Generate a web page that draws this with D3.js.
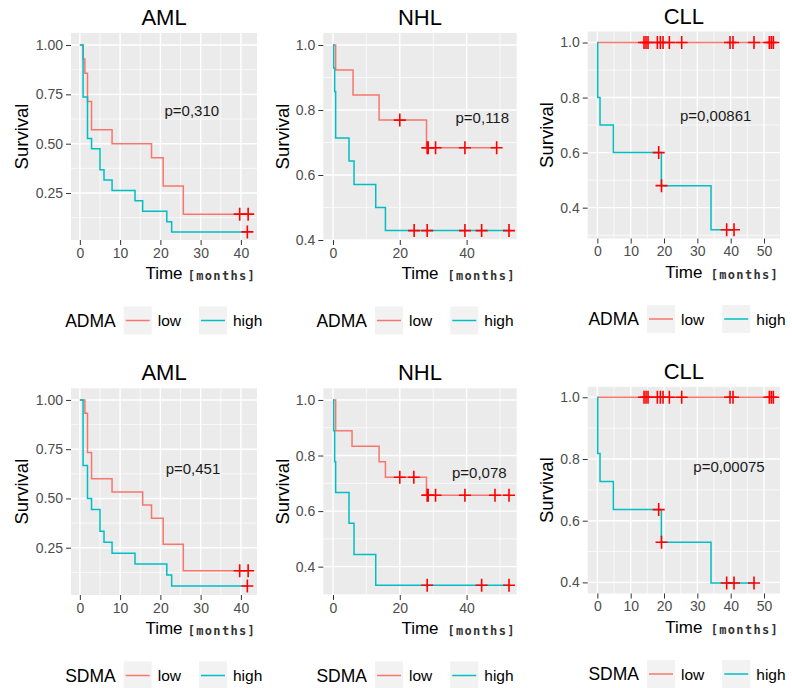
<!doctype html>
<html>
<head>
<meta charset="utf-8">
<title>ADMA / SDMA survival</title>
<script src="https://cdnjs.cloudflare.com/ajax/libs/d3/7.8.5/d3.min.js"></script>
<style>
  body { margin: 0; background: #fff; }
  svg { display: block; font-family: "Liberation Sans", Arial, sans-serif; }
</style>
</head>
<body>
<svg width="792" height="688"></svg>
<script>
// step curves (time in months, survival) and censoring times
var amlAdmaLowT  = [0, 0.8, 1.25, 1.9, 2.9, 8.0, 17.8, 20.7, 25.7, 41.8];
var amlAdmaLowS  = [1, 0.929, 0.857, 0.714, 0.571, 0.5, 0.429, 0.286, 0.143, 0.143];
var amlAdmaLowC  = [39.7, 41.8];
var amlAdmaHighT = [0, 0.8, 1.9, 2.9, 5.0, 6.0, 8.0, 13.7, 15.6, 21.6, 22.8, 41.6];
var amlAdmaHighS = [1, 0.737, 0.526, 0.474, 0.368, 0.316, 0.263, 0.211, 0.158, 0.105, 0.053, 0.053];
var amlAdmaHighC = [41.6];

var nhlAdmaLowT  = [0, 0.8, 6.0, 13.8, 28.0, 49.0];
var nhlAdmaLowS  = [1, 0.923, 0.846, 0.769, 0.684, 0.684];
var nhlAdmaLowC  = [20.0, 28.2, 28.5, 30.7, 39.5, 49.0];
var nhlAdmaHighT = [0, 0.2, 0.5, 0.8, 4.8, 6.3, 12.8, 15.7, 52.7];
var nhlAdmaHighS = [1, 0.929, 0.857, 0.714, 0.643, 0.571, 0.5, 0.429, 0.429];
var nhlAdmaHighC = [24.3, 28.2, 39.5, 44.5, 52.7];

var cllAdmaLowT  = [0, 52.8];
var cllAdmaLowS  = [1, 1];
var cllAdmaLowC  = [14.0, 14.6, 15.2, 18.0, 18.9, 19.7, 21.6, 25.3, 39.8, 40.7, 47.0, 51.6, 52.2, 52.8];
var cllAdmaHighT = [0, 0.1, 0.8, 4.8, 19.2, 34.1, 41.0];
var cllAdmaHighS = [1, 0.8, 0.7, 0.6, 0.48, 0.32, 0.32];
var cllAdmaHighC = [18.4, 19.25, 38.8, 41.0];

var amlSdmaLowT  = [0, 1.25, 1.9, 2.9, 8.0, 15.6, 17.8, 20.7, 25.7, 41.8];
var amlSdmaLowS  = [1, 0.933, 0.733, 0.6, 0.533, 0.467, 0.4, 0.267, 0.133, 0.133];
var amlSdmaLowC  = [39.7, 41.8];
var amlSdmaHighT = [0, 0.8, 1.9, 2.9, 5.0, 6.0, 8.0, 13.7, 21.6, 22.8, 41.6];
var amlSdmaHighS = [1, 0.667, 0.5, 0.444, 0.333, 0.278, 0.222, 0.167, 0.111, 0.056, 0.056];
var amlSdmaHighC = [41.6];

var nhlSdmaLowT  = [0, 0.8, 5.7, 13.8, 15.7, 28.0, 52.7];
var nhlSdmaLowS  = [1, 0.889, 0.833, 0.778, 0.722, 0.657, 0.657];
var nhlSdmaLowC  = [20.0, 24.2, 28.2, 28.5, 30.7, 39.5, 48.5, 52.7];
var nhlSdmaHighT = [0, 0.2, 0.5, 0.8, 4.8, 6.3, 12.8, 52.7];
var nhlSdmaHighS = [1, 0.889, 0.778, 0.667, 0.556, 0.444, 0.333, 0.333];
var nhlSdmaHighC = [28.2, 44.5, 52.7];

var cllSdmaLowT  = [0, 52.8];
var cllSdmaLowS  = [1, 1];
var cllSdmaLowC  = [14.0, 14.6, 15.2, 18.0, 18.9, 19.7, 21.6, 25.3, 39.8, 40.7, 51.6, 52.2, 52.8];
var cllSdmaHighT = [0, 0.1, 0.8, 4.8, 19.2, 34.1, 47.0];
var cllSdmaHighS = [1, 0.818, 0.727, 0.636, 0.530, 0.398, 0.398];
var cllSdmaHighC = [18.4, 19.25, 38.8, 41.0, 47.0];

// tick labels
var amlYTicks = [0.25, 0.5, 0.75, 1.0];
var nhlYTicks = [0.4, 0.6, 0.8, 1.0];
var cllYTicks = [0.4, 0.6, 0.8, 1.0];
var amlXTicks = [0, 10, 20, 30, 40];
var nhlXTicks = [0, 20, 40];
var cllXTicks = [0, 10, 20, 30, 40, 50];

var groups = ["low", "high"];
var pValues = ["p=0,310", "p=0,118", "p=0,00861", "p=0,451", "p=0,078", "p=0,00075"];

var colLow = "#F8766D", colHigh = "#00BFC4", colCensor = "#FF0000";

// plot area of each column / row
var colX = [[71, 257], [323.3, 516.7], [587.7, 780]];
var rowY = [[33, 240], [388.3, 595]];
var legendCx = [163.7, 415, 687];

var panels = [
  {row: 0, col: 0, title: "AML", marker: "ADMA", p: pValues[0], pAt: [27.8, 0.67],
   xDom: [-2.2, 44.0], yDom: [0.012, 1.061], xTicks: amlXTicks, yTicks: amlYTicks, yFmt: ".2f",
   low: [amlAdmaLowT, amlAdmaLowS, amlAdmaLowC], high: [amlAdmaHighT, amlAdmaHighS, amlAdmaHighC]},
  {row: 0, col: 1, title: "NHL", marker: "ADMA", p: pValues[1], pAt: [44.7, 0.778],
   xDom: [-2.9, 55.0], yDom: [0.4, 1.037], xTicks: nhlXTicks, yTicks: nhlYTicks, yFmt: ".1f",
   low: [nhlAdmaLowT, nhlAdmaLowS, nhlAdmaLowC], high: [nhlAdmaHighT, nhlAdmaHighS, nhlAdmaHighC]},
  {row: 0, col: 2, title: "CLL", marker: "ADMA", p: pValues[2], pAt: [35.5, 0.736],
   xDom: [-2.9, 54.8], yDom: [0.288, 1.04], xTicks: cllXTicks, yTicks: cllYTicks, yFmt: ".1f",
   low: [cllAdmaLowT, cllAdmaLowS, cllAdmaLowC], high: [cllAdmaHighT, cllAdmaHighS, cllAdmaHighC]},
  {row: 1, col: 0, title: "AML", marker: "SDMA", p: pValues[3], pAt: [28.1, 0.653],
   xDom: [-2.2, 44.0], yDom: [0.010, 1.059], xTicks: amlXTicks, yTicks: amlYTicks, yFmt: ".2f",
   low: [amlSdmaLowT, amlSdmaLowS, amlSdmaLowC], high: [amlSdmaHighT, amlSdmaHighS, amlSdmaHighC]},
  {row: 1, col: 1, title: "NHL", marker: "SDMA", p: pValues[4], pAt: [43.8, 0.738],
   xDom: [-2.9, 55.0], yDom: [0.298, 1.042], xTicks: nhlXTicks, yTicks: nhlYTicks, yFmt: ".1f",
   low: [nhlSdmaLowT, nhlSdmaLowS, nhlSdmaLowC], high: [nhlSdmaHighT, nhlSdmaHighS, nhlSdmaHighC]},
  {row: 1, col: 2, title: "CLL", marker: "SDMA", p: pValues[5], pAt: [39.5, 0.775],
   xDom: [-2.9, 54.8], yDom: [0.364, 1.034], xTicks: cllXTicks, yTicks: cllYTicks, yFmt: ".1f",
   low: [cllSdmaLowT, cllSdmaLowS, cllSdmaLowC], high: [cllSdmaHighT, cllSdmaHighS, cllSdmaHighC]}
];

var svg = d3.select("svg");

function stepAt(t, T, S) {
  var v = S[0];
  for (var i = 0; i < T.length; i++) if (T[i] <= t) v = S[i];
  return v;
}

function minors(ticks, dom) {
  var step = ticks[1] - ticks[0], out = [ticks[0] - step / 2];
  ticks.forEach(function (d) { out.push(d + step / 2); });
  return out.filter(function (d) { return d > dom[0] && d < dom[1]; });
}

panels.forEach(function (p) {
  var yOff = p.col == 2 ? -1.5 : 0;
  var x0 = colX[p.col][0], x1 = colX[p.col][1];
  var y0 = rowY[p.row][0] + yOff, y1 = rowY[p.row][1] + yOff;

  var x = d3.scaleLinear().domain(p.xDom).range([x0, x1]);
  var y = d3.scaleLinear().domain(p.yDom).range([y1, y0]);

  var g = svg.append("g");

  g.append("rect").attr("x", x0).attr("y", y0)
    .attr("width", x1 - x0).attr("height", y1 - y0).attr("fill", "#EBEBEB");

  // grid
  g.selectAll(".gmy").data(minors(p.yTicks, p.yDom)).enter().append("line")
    .attr("x1", x0).attr("x2", x1).attr("y1", y).attr("y2", y)
    .attr("stroke", "#fff").attr("stroke-width", 0.7);
  g.selectAll(".gmx").data(minors(p.xTicks, p.xDom)).enter().append("line")
    .attr("y1", y0).attr("y2", y1).attr("x1", x).attr("x2", x)
    .attr("stroke", "#fff").attr("stroke-width", 0.7);
  g.selectAll(".gy").data(p.yTicks).enter().append("line")
    .attr("x1", x0).attr("x2", x1).attr("y1", y).attr("y2", y)
    .attr("stroke", "#fff").attr("stroke-width", 1.4);
  g.selectAll(".gx").data(p.xTicks).enter().append("line")
    .attr("y1", y0).attr("y2", y1).attr("x1", x).attr("x2", x)
    .attr("stroke", "#fff").attr("stroke-width", 1.4);

  // axes
  var ax = g.append("g").attr("transform", "translate(0," + y1 + ")")
    .call(d3.axisBottom(x).tickValues(p.xTicks).tickSize(5).tickPadding(3));
  var ay = g.append("g").attr("transform", "translate(" + x0 + ",0)")
    .call(d3.axisLeft(y).tickValues(p.yTicks).tickFormat(d3.format(p.yFmt)).tickSize(5).tickPadding(3));
  [ax, ay].forEach(function (a) {
    a.select(".domain").remove();
    a.selectAll(".tick line").attr("stroke", "#333");
    a.selectAll(".tick text").attr("fill", "#4D4D4D")
      .style("font-size", "14px").style("font-family", "'Liberation Sans', Arial, sans-serif");
  });

  // curves
  var line = d3.line()
    .x(function (d) { return x(d[0]); })
    .y(function (d) { return y(d[1]); })
    .curve(d3.curveStepAfter);

  [[p.low, colLow], [p.high, colHigh]].forEach(function (c) {
    var pts = c[0][0].map(function (t, i) { return [t, c[0][1][i]]; });
    g.append("path").datum(pts).attr("d", line)
      .attr("fill", "none").attr("stroke", c[1]).attr("stroke-width", 1.5);
  });

  // censoring marks
  [p.low, p.high].forEach(function (c) {
    g.selectAll(null).data(c[2]).enter().append("path")
      .attr("transform", function (t) { return "translate(" + x(t) + "," + y(stepAt(t, c[0], c[1])) + ")"; })
      .attr("d", "M-6,0H6M0,-6.5V6.5")
      .attr("stroke", colCensor).attr("stroke-width", 1.6).attr("fill", "none");
  });

  // p value
  g.append("text").attr("x", x(p.pAt[0])).attr("y", y(p.pAt[1]))
    .attr("text-anchor", "middle").attr("dominant-baseline", "central")
    .style("font-size", "15px").attr("fill", "#1a1a1a").text(p.p);

  // titles
  var cx = (x0 + x1) / 2;
  g.append("text").attr("x", cx).attr("y", y0 - 8).attr("text-anchor", "middle")
    .style("font-size", "22px").attr("fill", "#000").text(p.title);
  g.append("text")
    .attr("transform", "translate(" + (x0 - (p.col == 0 ? 49.5 : 41)) + "," + ((y0 + y1) / 2) + ") rotate(-90)")
    .attr("text-anchor", "middle").attr("dominant-baseline", "central")
    .style("font-size", "18.5px").attr("fill", "#000").text("Survival");
  g.append("text").attr("x", cx).attr("y", y1 + 39).attr("text-anchor", "middle")
    .style("font-size", "17px").attr("fill", "#000").text("Time");
  g.append("text").attr("x", x1 - 1).attr("y", y1 + 40).attr("text-anchor", "end")
    .style("font-family", "'DejaVu Sans Mono', monospace").style("font-weight", "bold")
    .style("font-size", "12px").style("letter-spacing", "1.3px").attr("fill", "#333").text("[months]");

  // legend
  var lg = g.append("g");
  var ly = y1 + 80.5;
  var lt = lg.append("text").attr("x", 0).attr("y", ly).attr("dominant-baseline", "central")
    .style("font-size", "17.5px").attr("fill", "#000").text(p.marker);
  var cur = lt.node().getComputedTextLength() + 8;
  groups.forEach(function (name, i) {
    lg.append("rect").attr("x", cur).attr("y", ly - 14).attr("width", 28).attr("height", 28)
      .attr("fill", "#F2F2F2");
    lg.append("line").attr("x1", cur + 2).attr("x2", cur + 26).attr("y1", ly).attr("y2", ly)
      .attr("stroke", i == 0 ? colLow : colHigh).attr("stroke-width", 1.5);
    cur += 34;
    var t = lg.append("text").attr("x", cur).attr("y", ly).attr("dominant-baseline", "central")
      .style("font-size", "15.5px").attr("fill", "#000").text(name);
    cur += t.node().getComputedTextLength() + 18;
  });
  var lw = cur - 18;
  lg.attr("transform", "translate(" + (legendCx[p.col] - lw / 2) + ",0)");
});
</script>
</body>
</html>
